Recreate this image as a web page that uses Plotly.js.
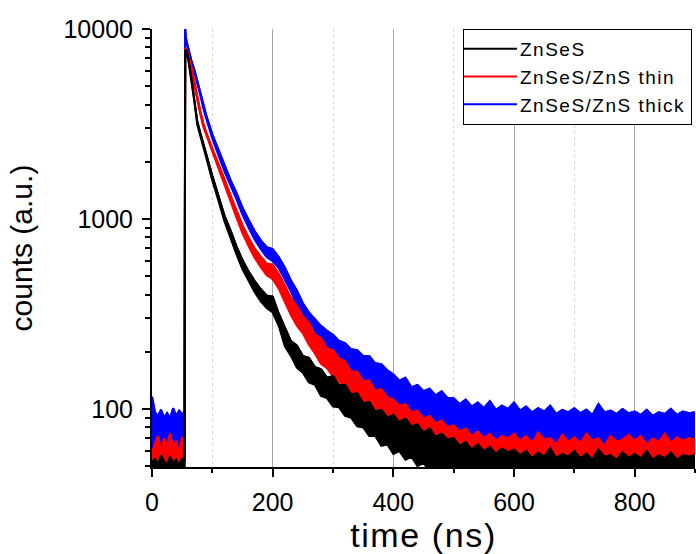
<!DOCTYPE html>
<html>
<head>
<meta charset="utf-8">
<script src="https://cdn.plot.ly/plotly-3.0.1.min.js"></script>
<style>
html,body{margin:0;padding:0;background:#fff;}
#chart{width:696px;height:554px;}
.legendtext{letter-spacing:1.5px;}
.xtitle{letter-spacing:1.6px;}
</style>
</head>
<body>
<div id="chart"></div>
<script>
// time axis (ns)
const time_ns = [0,5,10,15,20,25,30,35,40,45,50,54,55,56,58,60,65,70,75,80,85,90,
100,110,120,130,140,150,160,170,180,190,
200,210,220,230,240,250,260,270,280,290,
300,310,320,330,340,350,360,370,380,390,
400,410,420,430,440,450,460,470,480,490,
500,510,520,530,540,550,560,570,580,590,
600,610,620,630,640,650,660,670,680,690,
700,710,720,730,740,750,760,770,780,790,
800,810,820,830,840,850,860,870,880,890,
900];

// series names
const seriesNames = ["ZnSeS", "ZnSeS/ZnS thin", "ZnSeS/ZnS thick"];

// y tick labels
const yTickVals = [100, 1000, 10000];
const yTickText = ["100", "1000", "10000"];

// ZnSeS (black): upper / lower edge of the noisy trace (counts)
const znses_upper = [52,55,50,57,53,51,56,52,54,50,55,53,
7600,7780,7500,7080,5570,4355,3265,2845,2480,2185,
1690,1330,1045,874,718,608,530,473,428,396,
390,318,270,228,216,190,186,166,162,146,
149,133,134,119,121,107,109,97,99,90,
93,85,89,81,83,75,79,71,74,69,
70,64,67,61,65,60,63,58,62,59,
61,57,60,55,59,56,62,55,58,56,
60,55,58,54,61,56,57,54,59,55,
58,55,60,54,57,55,59,54,57,56,
57];
const znses_lower = [42,42,42,42,42,42,42,42,42,42,42,42,
7300,7600,7320,6920,5430,4185,3135,2735,2380,2095,
1592,1252,975,792,651,543,472,413,370,340,
322,274,214,191,165,155,138,134,117,114,
103,102,92,90,81,80,72,72,64,65,
58,60,54,56,50,52,47,49,45,46,
42,42,42,42,42,42,42,42,42,42,
42,42,42,42,42,42,42,42,42,42,
42,42,42,42,42,42,42,42,42,42,
42,42,42,42,42,42,42,42,42,42,
42];

// ZnSeS/ZnS thin (red)
const thin_upper = [58,66,72,60,70,64,74,62,68,58,71,66,
7700,7950,7680,7330,6390,5330,4400,3700,3190,2850,
2345,1960,1620,1335,1105,925,800,700,635,582,
575,515,448,384,348,308,284,246,236,208,
204,184,178,157,157,140,141,125,127,115,
112,104,106,96,98,89,92,84,87,80,
82,76,79,72,76,70,74,68,72,70,
74,68,72,66,75,69,70,65,73,67,
71,66,74,68,70,64,72,67,69,73,
68,72,65,70,67,74,66,71,68,70,
69];
const thin_lower = [44,44,44,44,44,44,44,44,44,44,44,44,
7300,7750,7500,7150,6230,5170,4230,3560,3060,2730,
2235,1850,1515,1240,1015,840,720,625,560,505,
482,430,366,313,274,250,218,196,173,164,
148,140,125,121,108,105,95,94,85,86,
79,76,71,69,64,63,59,59,56,56,
53,52,50,50,49,48,47,47,46,46,
45,45,45,45,45,45,45,45,45,45,
45,45,45,45,45,45,45,45,45,45,
45,45,45,45,45,45,45,45,45,45,
45];

// ZnSeS/ZnS thick (blue)
const thick_upper = [116,96,92,99,90,95,89,101,92,98,94,96,
10300,9050,8450,7880,6860,6130,5350,4660,3970,3500,
2790,2310,1900,1605,1370,1145,990,865,775,710,
695,630,556,476,420,360,322,296,274,258,
246,228,222,206,204,190,190,174,172,160,
152,141,146,130,134,124,128,118,124,114,
114,106,112,103,108,101,110,99,104,100,
108,98,103,96,101,97,104,94,99,96,
101,95,99,93,106,96,98,94,100,95,
97,93,99,92,96,94,100,93,97,95,
96];
const thick_lower = [56,54,58,55,53,57,54,56,58,53,55,54,
9300,8750,8190,7640,6660,5930,5150,4480,3810,3360,
2650,2170,1780,1495,1270,1050,900,780,695,630,
600,552,476,416,350,302,262,242,224,208,
190,182,166,160,146,142,128,124,110,106,
96,94,88,89,83,85,80,81,77,78,
72,73,69,71,67,69,65,67,64,65,
66,68,64,66,63,65,62,64,61,63,
61,63,60,62,60,62,59,61,60,62,
59,61,58,60,58,61,59,60,58,60,
59];

const FONT = "Liberation Sans, Arial, sans-serif";

function band(upper, lower, color) {
  return {
    x: time_ns.concat(time_ns.slice().reverse()),
    y: upper.concat(lower.slice().reverse()),
    type: "scatter", mode: "lines", fill: "toself",
    fillcolor: color, line: {color: color, width: 2},
    showlegend: false, hoverinfo: "skip"
  };
}
function edge(values, color, name) {
  return {
    x: time_ns, y: values, type: "scatter", mode: "lines",
    name: name, line: {color: color, width: 2}, showlegend: true
  };
}

const traces = [
  band(thick_upper, thick_lower, "#0000ff"), edge(thick_upper, "#0000ff", seriesNames[2]),
  band(thin_upper, thin_lower, "#ff0000"), edge(thin_upper, "#ff0000", seriesNames[1]),
  band(znses_upper, znses_lower, "#000000"), edge(znses_upper, "#000000", seriesNames[0])
];

const layout = {
  width: 696, height: 554,
  margin: {l: 152, r: 1, t: 29, b: 87, pad: 0},
  paper_bgcolor: "#ffffff", plot_bgcolor: "#ffffff",
  font: {family: FONT, color: "#000"},
  showlegend: true,
  legend: {
    x: 0.5727, xanchor: "left", y: 1, yanchor: "top",
    bgcolor: "#ffffff", bordercolor: "#000000", borderwidth: 1,
    font: {family: FONT, size: 19, color: "#000"},
    traceorder: "reversed", itemwidth: 46, tracegroupgap: 0
  },
  xaxis: {
    range: [0, 900], tick0: 0, dtick: 200,
    ticks: "outside", ticklen: 8, tickwidth: 2, tickcolor: "#000",
    showline: true, linewidth: 2, linecolor: "#000",
    showgrid: true, gridcolor: "#a8a8a8", gridwidth: 1, zeroline: false,
    minor: {dtick: 100, ticks: "outside", ticklen: 4, tickwidth: 2, tickcolor: "#000",
            showgrid: true, gridcolor: "#d6d6d6", griddash: "dot", gridwidth: 1},
    tickfont: {family: FONT, size: 25, color: "#000"},
    ticklabelstandoff: 4,
    title: {text: "time (ns)", font: {family: FONT, size: 34, color: "#000"}, standoff: 14},
    automargin: false
  },
  yaxis: {
    type: "log", range: [Math.log10(49.5), 4],
    tickmode: "array", tickvals: yTickVals, ticktext: yTickText,
    ticks: "outside", ticklen: 8, tickwidth: 2, tickcolor: "#000",
    showline: true, linewidth: 2, linecolor: "#000",
    showgrid: false, zeroline: false,
    minor: {tickmode: "linear", dtick: "D1", ticks: "outside", ticklen: 5, tickwidth: 2, tickcolor: "#000", showgrid: false},
    tickfont: {family: FONT, size: 25, color: "#000"},
    ticklabelstandoff: 4,
    title: {text: "counts (a.u.)", font: {family: FONT, size: 30, color: "#000"}, standoff: 22},
    automargin: false
  }
};

Plotly.newPlot("chart", traces, layout, {staticPlot: true, displayModeBar: false}).then(function () {
  // lengthen legend line samples to match the reference
  document.querySelectorAll("#chart .legendlines path").forEach(function (p) {
    p.setAttribute("d", "M0,0h53");
  });
});
</script>
</body>
</html>
